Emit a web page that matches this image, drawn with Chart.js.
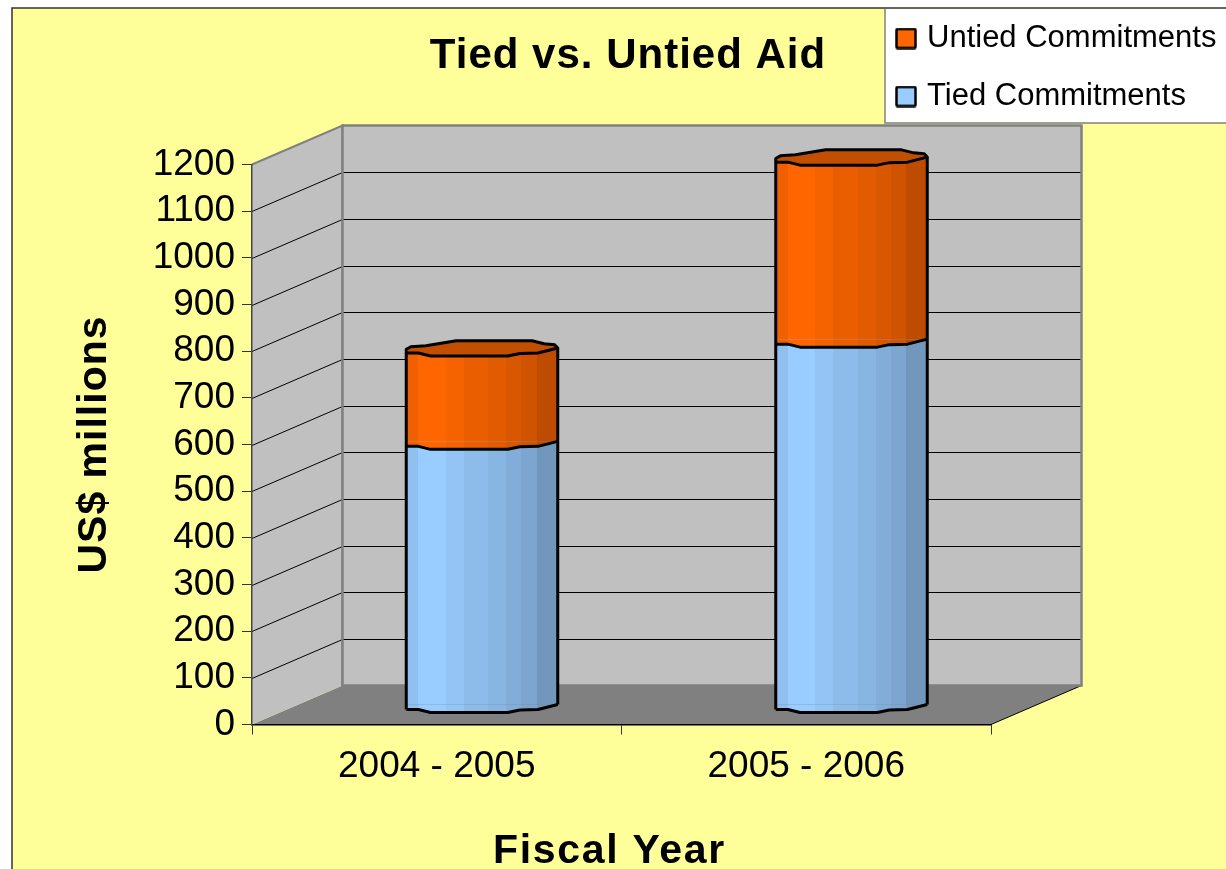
<!DOCTYPE html>
<html>
<head>
<meta charset="utf-8">
<style>html,body{margin:0;padding:0;background:#fff;overflow:hidden}canvas{display:block}</style>
<script src="https://cdn.jsdelivr.net/npm/chart.js@4/dist/chart.umd.min.js"></script>
</head>
<body>
<canvas id="c" width="1226" height="869"></canvas>
<script>
const categories = ['2004 - 2005', '2005 - 2006'];
const tiedValues = [565, 784];
const untiedValues = [200, 390];
const tiedLabel = 'Tied Commitments';
const untiedLabel = 'Untied Commitments';
const tiedColor = [153, 204, 255];
const untiedColor = [255, 102, 0];
const titleText = 'Tied vs. Untied Aid';
const yTitleText = 'US$ millions';
const xTitleText = 'Fiscal Year';

const FONT = '"Liberation Sans", Arial, sans-serif';
const DEPTH_X = 90.5, DEPTH_Y = 39;
const SHIFT_X = 45.25, SHIFT_Y = -19.5;
const bandStops = [0, .08, .26, .38, .54, .66, .76, .86, 1];
const bandShades = [.94, 1, .96, .92, .89, .85, .81, .74];
const frontEdge = [[0,5],[.08,5],[.16,8],[.67,8],[.75,5.5],[.87,5],[1,0]];
const backEdge = [[0,1.3],[.03,-1.3],[.13,-2.3],[.33,-7.3],[.83,-7.3],[.91,-4.3],[.98,-3.3],[1,0]];

const shade = (c, f) => `rgb(${c.map(v => Math.round(v * f)).join(',')})`;

function bandFill(base) {
  return function (ctx) {
    const chart = ctx.chart, x = chart.scales.x;
    if (!x || ctx.dataIndex === undefined || !x.width) return shade(base, 1);
    const w = x.width / categories.length * 0.41;
    const cx = x.getPixelForValue(ctx.dataIndex);
    const g = chart.ctx.createLinearGradient(cx - w / 2, 0, cx + w / 2, 0);
    bandShades.forEach((s, i) => {
      g.addColorStop(bandStops[i], shade(base, s));
      g.addColorStop(bandStops[i + 1], shade(base, s));
    });
    return g;
  };
}

function legendSwatch(base) {
  const s = document.createElement('canvas');
  s.width = 22; s.height = 22;
  const c = s.getContext('2d');
  c.fillStyle = shade(base, 1);
  c.strokeStyle = '#000';
  c.lineWidth = 2.5;
  c.beginPath();
  c.roundRect(1.5, 1.5, 19, 19, 1);
  c.fill(); c.stroke();
  return s;
}

function trace(c, pts, x0, w, y) {
  pts.forEach(p => c.lineTo(x0 + p[0] * w, y + p[1]));
}

function spaced(obj, method, spacing, dx) {
  const draw = obj[method];
  obj[method] = function () {
    const c = this.ctx || obj.ctx;
    c.save();
    c.letterSpacing = spacing;
    c.translate(dx, 0);
    draw.apply(this, arguments);
    c.restore();
  };
}

const scene = {
  id: 'scene',
  afterLayout(chart) {
    const lg = chart.legend;
    lg.left = 873.5; lg.right = 1226; lg.top = -4; lg.bottom = 400;
    lg.width = lg.right - lg.left; lg.height = lg.bottom - lg.top;
    const tb = chart.titleBlock;
    if (!chart._patched) {
      spaced(tb, 'draw', '1px', 132.5);
      spaced(chart.scales.x, 'drawTitle', '1.7px', -12);
      spaced(chart.scales.y, 'drawTitle', '1px', 0);
      chart._patched = true;
    }
  },
  beforeDraw(chart) {
    const c = chart.ctx, { x, y } = chart.scales;
    const L = x.left, R = x.right, T = y.getPixelForValue(1200), B = y.getPixelForValue(0);
    c.save();
    c.fillStyle = '#fff';
    c.fillRect(0, 0, 1226, 869);
    c.fillStyle = '#FFFF99';
    c.strokeStyle = '#333';
    c.lineWidth = 1.5;
    c.fillRect(12, 8, 1214, 861);
    c.beginPath(); c.moveTo(12, 869); c.lineTo(12, 8); c.lineTo(1226, 8); c.stroke();
    // legend panel
    c.fillStyle = '#fff';
    c.fillRect(885, 9, 341, 114);
    c.strokeStyle = '#808080';
    c.beginPath(); c.moveTo(885, 9); c.lineTo(885, 123); c.lineTo(1226, 123); c.stroke();
    // floor
    c.fillStyle = '#808080';
    c.beginPath();
    c.moveTo(L, B); c.lineTo(R, B); c.lineTo(R + DEPTH_X, B - DEPTH_Y); c.lineTo(L + DEPTH_X, B - DEPTH_Y);
    c.closePath(); c.fill();
    c.strokeStyle = '#000'; c.lineWidth = 1;
    c.beginPath(); c.moveTo(R, B); c.lineTo(R + DEPTH_X, B - DEPTH_Y); c.stroke();
    // side wall
    c.fillStyle = '#C0C0C0';
    c.strokeStyle = '#808080';
    c.lineWidth = 2;
    c.beginPath();
    c.moveTo(L, B); c.lineTo(L + DEPTH_X, B - DEPTH_Y); c.lineTo(L + DEPTH_X, T - DEPTH_Y); c.lineTo(L, T);
    c.closePath(); c.fill();
    c.beginPath();
    c.moveTo(L + DEPTH_X, B - DEPTH_Y); c.lineTo(L + DEPTH_X, T - DEPTH_Y); c.lineTo(L, T);
    c.stroke();
    // back wall
    c.fillRect(L + DEPTH_X, T - DEPTH_Y, R - L, B - T);
    c.lineWidth = 1;
    c.strokeStyle = '#000';
    y.ticks.forEach(t => {
      if (t.value === 0 || t.value === 1200) return;
      const py = Math.round(y.getPixelForValue(t.value)) + .5;
      c.beginPath();
      c.moveTo(L, py); c.lineTo(L + DEPTH_X, py - DEPTH_Y); c.lineTo(R + DEPTH_X, py - DEPTH_Y);
      c.stroke();
    });
    c.strokeStyle = '#808080';
    c.lineWidth = 2.5;
    c.strokeRect(L + DEPTH_X, T - DEPTH_Y, R - L, B - T);
    c.restore();
  },
  beforeDatasetDraw(chart) {
    chart.ctx.save();
    chart.ctx.translate(SHIFT_X, SHIFT_Y);
  },
  afterDatasetDraw(chart) {
    chart.ctx.restore();
  },
  afterDatasetsDraw(chart) {
    const c = chart.ctx;
    c.save();
    c.translate(SHIFT_X, SHIFT_Y);
    c.strokeStyle = '#000';
    c.lineWidth = 3;
    c.lineJoin = 'round';
    categories.forEach((_, j) => {
      const tied = chart.getDatasetMeta(0).data[j];
      const untied = chart.getDatasetMeta(1).data[j];
      const w = tied.width, x0 = tied.x - w / 2, x1 = x0 + w;
      [tied, untied].forEach(el => {
        c.fillStyle = el.options.backgroundColor;
        c.beginPath();
        c.moveTo(x0, el.base);
        trace(c, frontEdge, x0, w, el.base);
        c.closePath();
        c.fill();
      });
      // cap
      c.fillStyle = shade(untiedColor, .76);
      c.beginPath();
      c.moveTo(x0, untied.y + backEdge[0][1]);
      trace(c, backEdge, x0, w, untied.y);
      trace(c, frontEdge.slice().reverse(), x0, w, untied.y);
      c.closePath();
      c.fill();
      c.stroke();
      // seams and silhouette
      [tied.base, tied.y].forEach(py => {
        c.beginPath();
        c.moveTo(x0, py + frontEdge[0][1]);
        trace(c, frontEdge, x0, w, py);
        c.stroke();
      });
      c.beginPath();
      c.moveTo(x0, tied.base + frontEdge[0][1]);
      c.lineTo(x0, untied.y + frontEdge[0][1]);
      c.moveTo(x1, tied.base);
      c.lineTo(x1, untied.y);
      c.stroke();
    });
    c.restore();
  }
};

new Chart(document.getElementById('c'), {
  type: 'bar',
  data: {
    labels: categories,
    datasets: [
      { label: tiedLabel, data: tiedValues, backgroundColor: bandFill(tiedColor), borderWidth: 0, clip: false, swatch: legendSwatch(tiedColor) },
      { label: untiedLabel, data: untiedValues, backgroundColor: bandFill(untiedColor), borderWidth: 0, clip: false, swatch: legendSwatch(untiedColor) }
    ]
  },
  options: {
    responsive: false,
    animation: false,
    devicePixelRatio: 1,
    barPercentage: 0.41,
    categoryPercentage: 1,
    layout: { padding: { left: 0, right: 235, top: 0, bottom: 0 } },
    plugins: {
      tooltip: { enabled: false },
      title: {
        display: true, text: titleText, color: '#000',
        font: { family: FONT, size: 42, weight: 'bold', lineHeight: 1 },
        padding: { top: 35, bottom: 87.5 }
      },
      legend: {
        display: true,
        position: 'chartArea',
        align: 'start',
        reverse: true,
        labels: {
          color: '#000',
          font: { family: FONT, size: 31 },
          padding: 27,
          usePointStyle: true,
          pointStyleWidth: 11,
          generateLabels(chart) {
            return chart.data.datasets.map((d, i) => ({
              text: d.label, datasetIndex: i, pointStyle: d.swatch,
              fillStyle: 'transparent', strokeStyle: 'transparent', lineWidth: 0, hidden: false
            }));
          }
        }
      }
    },
    scales: {
      x: {
        stacked: true,
        afterFit(s) { s.height = 144.5; },
        grid: { drawOnChartArea: false, drawTicks: true, tickLength: 10, tickColor: '#333', offset: true },
        border: { color: '#000', width: 1.5 },
        ticks: { color: '#000', font: { family: FONT, size: 37 }, padding: 10, maxRotation: 0 },
        title: {
          display: true, text: xTitleText, color: '#000',
          font: { family: FONT, size: 41, weight: 'bold', lineHeight: 0.85 },
          padding: { top: 0, bottom: 0 }
        }
      },
      y: {
        stacked: true,
        min: 0, max: 1200,
        afterFit(s) { s.width = 252; },
        grid: { drawOnChartArea: false, drawTicks: true, tickLength: 10, tickColor: '#333' },
        border: { color: '#444', width: 1.5 },
        ticks: { color: '#000', stepSize: 100, font: { family: FONT, size: 37 }, padding: 7, autoSkip: false, format: { useGrouping: false } },
        title: {
          display: true, text: yTitleText, color: '#000',
          font: { family: FONT, size: 41, weight: 'bold', lineHeight: 1 },
          padding: { top: 74, bottom: 0 }
        }
      }
    }
  },
  plugins: [scene]
});
</script>
</body>
</html>
